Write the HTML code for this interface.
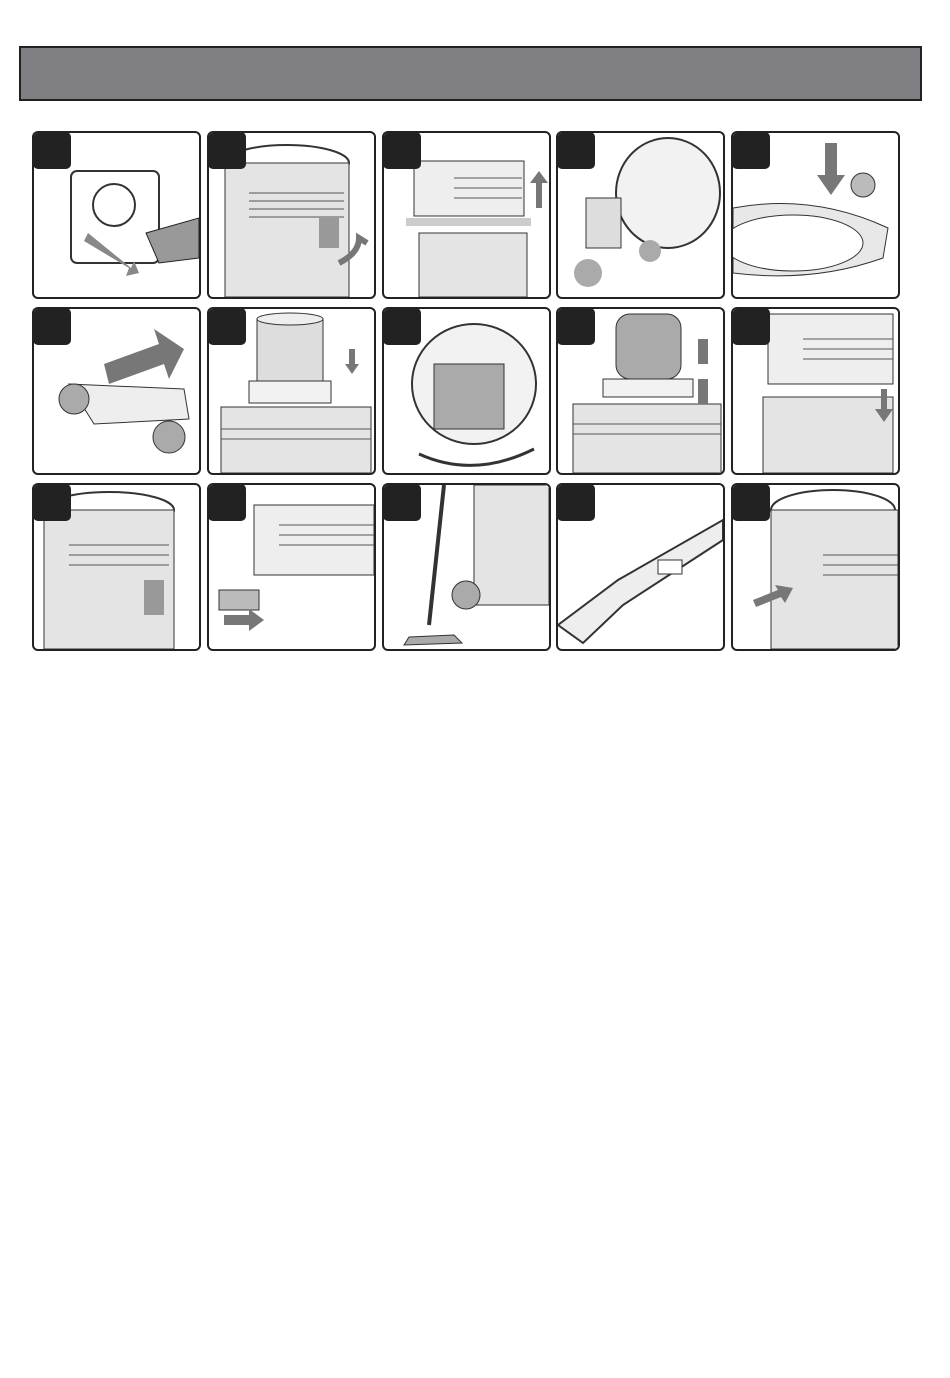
<!DOCTYPE html>
<html><head><meta charset="utf-8"><style>
body{margin:0;width:950px;height:1378px;background:#fff;position:relative;overflow:hidden;font-family:"Liberation Sans",sans-serif}
.hdr{position:absolute;left:19px;top:46px;width:899px;height:51px;background:#807f83;border:2px solid #222}
.p{position:absolute;width:165px;height:164px;border:2px solid #222;border-radius:6px;overflow:hidden;background:#fff}
.b{position:absolute;left:-1px;top:-1px;width:38px;height:37px;background:#222;border-radius:5px;z-index:2}
svg{position:absolute;left:0;top:0}
</style></head><body>
<div class="hdr"></div>

<div class="p" style="left:32px;top:131px"><div class="b"></div>
<svg width="165" height="164"><rect x="37" y="38" width="88" height="92" rx="6" fill="none" stroke="#333" stroke-width="2"/><circle cx="80" cy="72" r="21" fill="none" stroke="#333" stroke-width="2"/><path d="M112 100 L165 85 L165 125 L125 130 Z" fill="#999" stroke="#222"/><path d="M50 108 L95 135 L92 143 L105 140 L100 128 L97 135 L54 100Z" fill="#888"/></svg></div>
<div class="p" style="left:207px;top:131px"><div class="b"></div>
<svg width="165" height="164"><ellipse cx="78" cy="30" rx="62" ry="18" fill="none" stroke="#333" stroke-width="2"/><rect x="16" y="30" width="124" height="134" fill="#e4e4e4" stroke="#333"/><g stroke="#555"><line x1="40" y1="60" x2="135" y2="60"/><line x1="40" y1="68" x2="135" y2="68"/><line x1="40" y1="76" x2="135" y2="76"/><line x1="40" y1="84" x2="135" y2="84"/></g><rect x="110" y="85" width="20" height="30" fill="#999"/><path d="M130 130 Q150 120 150 105 L158 110" fill="none" stroke="#777" stroke-width="6"/></svg></div>
<div class="p" style="left:382px;top:131px"><div class="b"></div>
<svg width="165" height="164"><rect x="30" y="28" width="110" height="55" fill="#eee" stroke="#333"/><g stroke="#555"><line x1="70" y1="45" x2="138" y2="45"/><line x1="70" y1="55" x2="138" y2="55"/><line x1="70" y1="65" x2="138" y2="65"/></g><rect x="22" y="85" width="125" height="8" fill="#ccc"/><rect x="35" y="100" width="108" height="64" fill="#e4e4e4" stroke="#333"/><path d="M152 75 L152 50 L146 50 L155 38 L164 50 L158 50 L158 75Z" fill="#777"/></svg></div>
<div class="p" style="left:556px;top:131px"><div class="b"></div>
<svg width="165" height="164"><ellipse cx="110" cy="60" rx="52" ry="55" fill="#f2f2f2" stroke="#333" stroke-width="2"/><rect x="28" y="65" width="35" height="50" fill="#ddd" stroke="#333"/><circle cx="30" cy="140" r="14" fill="#aaa"/><circle cx="92" cy="118" r="11" fill="#aaa"/></svg></div>
<div class="p" style="left:731px;top:131px"><div class="b"></div>
<svg width="165" height="164"><path d="M0 75 Q80 60 155 95 L150 125 Q80 150 0 140Z" fill="#e8e8e8" stroke="#333"/><ellipse cx="60" cy="110" rx="70" ry="28" fill="#fff" stroke="#333"/><path d="M92 10 L92 42 L84 42 L98 62 L112 42 L104 42 L104 10Z" fill="#777"/><circle cx="130" cy="52" r="12" fill="#bbb" stroke="#333"/></svg></div>

<div class="p" style="left:32px;top:307px"><div class="b"></div>
<svg width="165" height="164"><path d="M70 55 L125 35 L120 20 L150 40 L135 70 L130 55 L75 75Z" fill="#777"/><path d="M35 75 L150 80 L155 110 L60 115Z" fill="#eee" stroke="#333"/><circle cx="40" cy="90" r="15" fill="#aaa" stroke="#333"/><circle cx="135" cy="128" r="16" fill="#aaa" stroke="#333"/></svg></div>
<div class="p" style="left:207px;top:307px"><div class="b"></div>
<svg width="165" height="164"><rect x="48" y="10" width="66" height="62" fill="#ddd" stroke="#333"/><ellipse cx="81" cy="10" rx="33" ry="6" fill="#eee" stroke="#333"/><rect x="40" y="72" width="82" height="22" fill="#f2f2f2" stroke="#333"/><rect x="12" y="98" width="150" height="66" fill="#e4e4e4" stroke="#333"/><g stroke="#555"><line x1="12" y1="120" x2="162" y2="120"/><line x1="12" y1="130" x2="162" y2="130"/></g><path d="M140 40 L140 55 L136 55 L143 65 L150 55 L146 55 L146 40Z" fill="#777"/></svg></div>
<div class="p" style="left:382px;top:307px"><div class="b"></div>
<svg width="165" height="164"><ellipse cx="90" cy="75" rx="62" ry="60" fill="#f2f2f2" stroke="#333" stroke-width="2"/><rect x="50" y="55" width="70" height="65" fill="#aaa" stroke="#333"/><path d="M35 145 Q90 170 150 140" fill="none" stroke="#333" stroke-width="3"/></svg></div>
<div class="p" style="left:556px;top:307px"><div class="b"></div>
<svg width="165" height="164"><rect x="58" y="5" width="65" height="65" rx="14" fill="#aaa" stroke="#333"/><rect x="45" y="70" width="90" height="18" fill="#f2f2f2" stroke="#333"/><rect x="15" y="95" width="148" height="69" fill="#e4e4e4" stroke="#333"/><g stroke="#555"><line x1="15" y1="115" x2="163" y2="115"/><line x1="15" y1="125" x2="163" y2="125"/></g><rect x="140" y="30" width="10" height="25" fill="#777"/><rect x="140" y="70" width="10" height="25" fill="#777"/></svg></div>
<div class="p" style="left:731px;top:307px"><div class="b"></div>
<svg width="165" height="164"><rect x="35" y="5" width="125" height="70" fill="#eee" stroke="#333"/><g stroke="#555"><line x1="70" y1="30" x2="160" y2="30"/><line x1="70" y1="40" x2="160" y2="40"/><line x1="70" y1="50" x2="160" y2="50"/></g><rect x="30" y="88" width="130" height="76" fill="#e4e4e4" stroke="#333"/><path d="M148 80 L148 100 L142 100 L151 113 L160 100 L154 100 L154 80Z" fill="#777"/></svg></div>

<div class="p" style="left:32px;top:483px"><div class="b"></div>
<svg width="165" height="164"><ellipse cx="75" cy="25" rx="65" ry="18" fill="none" stroke="#333" stroke-width="2"/><rect x="10" y="25" width="130" height="139" fill="#e4e4e4" stroke="#333"/><g stroke="#555"><line x1="35" y1="60" x2="135" y2="60"/><line x1="35" y1="70" x2="135" y2="70"/><line x1="35" y1="80" x2="135" y2="80"/></g><rect x="110" y="95" width="20" height="35" fill="#999"/></svg></div>
<div class="p" style="left:207px;top:483px"><div class="b"></div>
<svg width="165" height="164"><rect x="45" y="20" width="120" height="70" fill="#eee" stroke="#333"/><g stroke="#555"><line x1="70" y1="40" x2="165" y2="40"/><line x1="70" y1="50" x2="165" y2="50"/><line x1="70" y1="60" x2="165" y2="60"/></g><rect x="10" y="105" width="40" height="20" fill="#bbb" stroke="#333"/><path d="M15 130 L40 130 L40 124 L55 135 L40 146 L40 140 L15 140Z" fill="#777"/></svg></div>
<div class="p" style="left:382px;top:483px"><div class="b"></div>
<svg width="165" height="164"><rect x="90" y="0" width="75" height="120" fill="#e4e4e4" stroke="#333"/><line x1="60" y1="0" x2="45" y2="140" stroke="#333" stroke-width="4"/><path d="M25 152 L70 150 L78 158 L20 160Z" fill="#aaa" stroke="#333"/><circle cx="82" cy="110" r="14" fill="#aaa" stroke="#333"/></svg></div>
<div class="p" style="left:556px;top:483px"><div class="b"></div>
<svg width="165" height="164"><path d="M0 140 L25 158 L65 120 L165 55 L165 35 L60 95 Z" fill="#eee" stroke="#333" stroke-width="2"/><rect x="100" y="75" width="24" height="14" fill="#fff" stroke="#333"/></svg></div>
<div class="p" style="left:731px;top:483px"><div class="b"></div>
<svg width="165" height="164"><ellipse cx="100" cy="25" rx="62" ry="20" fill="none" stroke="#333" stroke-width="2"/><rect x="38" y="25" width="127" height="139" fill="#e4e4e4" stroke="#333"/><g stroke="#555"><line x1="90" y1="70" x2="165" y2="70"/><line x1="90" y1="80" x2="165" y2="80"/><line x1="90" y1="90" x2="165" y2="90"/></g><path d="M20 115 L45 105 L42 100 L60 103 L52 118 L48 112 L23 122Z" fill="#777"/></svg></div>
</body></html>
